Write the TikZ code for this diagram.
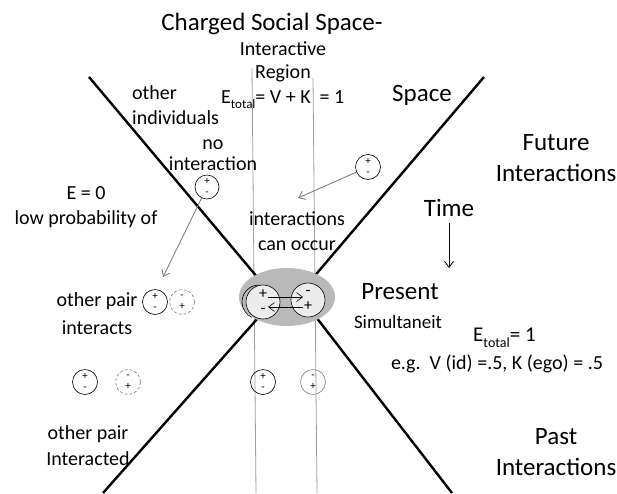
\documentclass[tikz,border=0pt]{standalone}
\usepackage{fontspec}
\setmainfont{Carlito}
\usetikzlibrary{arrows.meta,positioning,shapes.geometric}

\begin{document}
\begin{tikzpicture}[
    x=1pt, y=-1pt,
    >={Straight Barb[length=6pt,width=9pt]},
    big/.style={font=\fontsize{25}{31}\selectfont, align=center, inner sep=0pt},
    small/.style={font=\fontsize{20}{25}\selectfont, align=center, inner sep=0pt},
    charge/.style={circle, draw, line width=0.6pt, minimum size=25pt, inner sep=0pt,
                   font=\fontsize{11}{11}\selectfont, align=center},
    partner/.style={charge, draw=gray, densely dashed},
    cone/.style={line width=2.4pt},
    region/.style={draw=gray!75, line width=0.8pt},
    hint/.style={->, draw=gray, line width=0.9pt}
]
  \useasboundingbox (0,0) rectangle (617,493);

  % interactive region
  \draw[region] (252,68) -- (256,493);
  \draw[region] (313,78) -- (317,493);

  % light cone
  \coordinate (ul) at (89,77);
  \coordinate (ur) at (484,77);
  \coordinate (ll) at (103,493);
  \coordinate (lr) at (452,493);
  \draw[cone] (ul) -- (258,278);
  \draw[cone] (ur) -- (312,279);
  \draw[cone] (ll) -- (258,318);
  \draw[cone] (lr) -- (316,317);

  % present pair
  \node[ellipse, fill=gray!55, minimum width=96pt, minimum height=58pt] (now) at (287,297) {};
  \node[charge, fill=gray!15, minimum size=34pt, font=\fontsize{16}{15}\selectfont] (pl) at (263,302) {+\\-};
  \node[charge, fill=gray!15, minimum size=34pt, font=\fontsize{16}{15}\selectfont] (pr) at (308,300) {-\\+};
  \draw[line width=0.6pt] (259,285) arc[start angle=90, end angle=245, radius=17pt];
  \draw[->, line width=0.6pt] ([shift={(5,-5)}]pl.center) -- ([shift={(-5,-3)}]pr.center);
  \draw[->, line width=0.6pt] ([shift={(-5,7)}]pr.center) -- ([shift={(5,5)}]pl.center);

  % single charges
  \node[charge, minimum size=24pt] (c1) at (207,187) {+\\-};
  \node[charge] (c2) at (368,167) {+\\-};
  \node[charge] (p1) at (155,302) {+\\-};
  \node[partner] (q1) at (182,302) {-\\+};
  \node[charge] (p2) at (85,382) {+\\-};
  \node[partner] (q2) at (128,382) {-\\+};
  \node[charge] (p3) at (263,382) {+\\-};
  \node[charge, draw=gray] (q3) at (313,382) {-\\+};

  % labels
  \node[big] (title) at (272,24) {Charged Social Space-};
  \node[small, font=\fontsize{20}{23}\selectfont] (inter) at (283,62) {Interactive\\Region};
  \node[small, anchor=west] (etot) at (221,100)
    {E\raisebox{-5pt}{\fontsize{13}{13}\selectfont total}= V + K\hspace{9pt}= 1};
  \node[small, anchor=west, align=left, font=\fontsize{20}{25}\selectfont] (others) at (132,105) {other\\individuals};
  \node[small, font=\fontsize{20}{21}\selectfont] (noint) at (213,155) {no\\interaction};
  \node[small] (ezero) at (86,207) {E = 0\\low probability of};
  \node[small] (occur) at (297,231) {interactions\\can occur};
  \node[small, font=\fontsize{20}{28}\selectfont] (pair1) at (97,314) {other pair\\interacts};
  \node[small, font=\fontsize{20}{26}\selectfont] (pair2) at (88,446) {other pair\\Interacted};
  \node[big] (space) at (422,95) {Space};
  \node[big] (future) at (556,158) {Future\\Interactions};
  \node[big] (time) at (449,208) {Time};
  \node[big] (present) at (400,292) {Present};
  \node[small, font=\fontsize{19}{22}\selectfont] (simul) at (398,322) {Simultaneit};
  \node[small, anchor=west, font=\fontsize{21}{25}\selectfont] (eone) at (473,338)
    {E\raisebox{-6pt}{\fontsize{14}{14}\selectfont total}= 1};
  \node[small] (eg) at (497,364) {e.g.\ \ V (id) =.5, K (ego) = .5};
  \node[big] (past) at (556,452) {Past\\Interactions};

  % arrows
  \coordinate (tip1) at (163,277);
  \coordinate (tip2) at (298,198);
  \coordinate (tip3) at (449,268);
  \draw[hint] (c1) -- (tip1);
  \draw[hint] (c2) -- (tip2);
  \draw[->, line width=0.8pt] (time.south -| tip3) ++(0,6) -- (tip3);
\end{tikzpicture}
\end{document}
